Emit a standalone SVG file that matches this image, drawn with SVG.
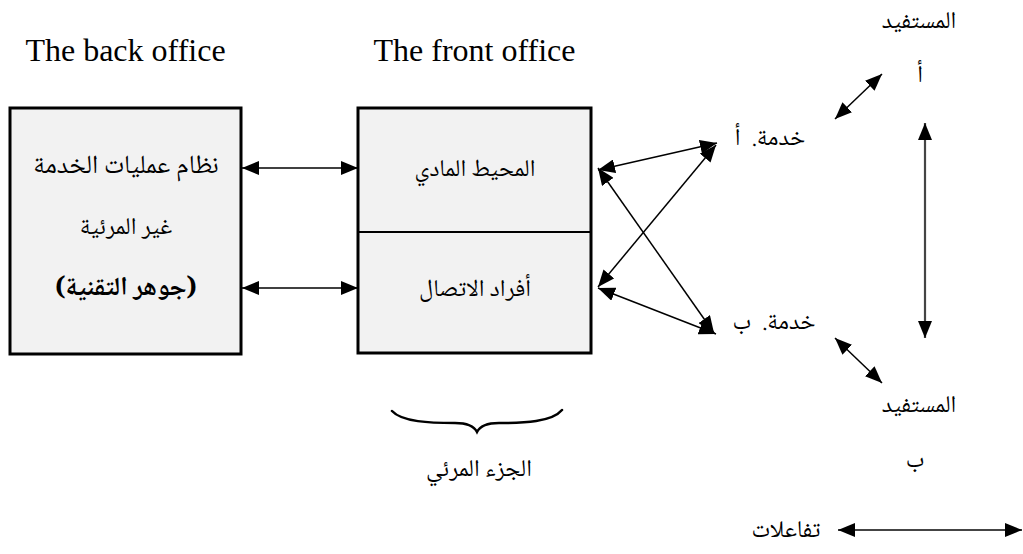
<svg xmlns="http://www.w3.org/2000/svg" width="1023" height="554" viewBox="0 0 1023 554">
  <style>
    .box { fill: #f2f2f2; stroke: #000; stroke-width: 3; }
    .div { stroke: #000; stroke-width: 2; }
    .en { font-family: "Liberation Serif", "Times New Roman", serif; font-size: 32px; fill: #000; text-anchor: middle; }
    .ar { font-family: "Noto Naskh Arabic", "Noto Sans Arabic", "DejaVu Sans", sans-serif; font-size: 24px; fill: #000; text-anchor: middle; direction: rtl; }
    .big { font-size: 26px; }
    .bold { font-weight: bold; }
    .link { stroke: #000; stroke-width: 1.5; fill: none; marker-start: url(#head); marker-end: url(#head); }
    .gray { stroke: #444; stroke-width: 2.2; }
    .brace { stroke: #000; stroke-width: 2.5; fill: none; stroke-linecap: round; }
  </style>
  <defs>
    <marker id="head" viewBox="0 0 17 14" refX="17" refY="7" markerWidth="17" markerHeight="14" markerUnits="userSpaceOnUse" orient="auto-start-reverse">
      <path d="M0,0 L17,7 L0,14 Z" fill="#000"/>
    </marker>
  </defs>
  <rect width="1023" height="554" fill="#fff"/>

  <text class="en" x="125.5" y="61">The back office</text>
  <text class="en" x="474.5" y="61">The front office</text>

  <g id="back-office">
    <rect class="box" x="10" y="108" width="231" height="246"/>
    <text class="ar big" x="126" y="173">نظام عمليات الخدمة</text>
    <text class="ar" x="126" y="234">غير المرئية</text>
    <text class="ar big bold" x="126" y="295">(جوهر التقنية)</text>
  </g>

  <g id="front-office">
    <rect class="box" x="358" y="108" width="233" height="245"/>
    <line class="div" x1="358" y1="232" x2="591" y2="232"/>
    <text class="ar" x="475" y="176">المحيط المادي</text>
    <text class="ar" x="475" y="296">أفراد الاتصال</text>
  </g>

  <g id="visible-part">
    <path class="brace" d="M392,411 C402,422 430,423 455,423 C468,423 474,426 477,432 C480,426 486,423 499,423 C524,423 552,422 562,410"/>
    <text class="ar" x="479" y="476">الجزء المرئي</text>
  </g>

  <g id="service-a">
    <text class="ar" x="770" y="145" word-spacing="6">خدمة. أ</text>
  </g>
  <g id="service-b">
    <text class="ar" x="774" y="329" word-spacing="6">خدمة. ب</text>
  </g>
  <g id="beneficiary-a">
    <text class="ar" x="919" y="28">المستفيد</text>
    <text class="ar" x="920" y="82">أ</text>
  </g>
  <g id="beneficiary-b">
    <text class="ar" x="919" y="412">المستفيد</text>
    <text class="ar" x="915" y="467">ب</text>
  </g>
  <g id="legend">
    <text class="ar" x="786" y="537">تفاعلات</text>
  </g>

  <g id="connectors">
    <line class="link" x1="242" y1="168" x2="358" y2="168"/>
    <line class="link" x1="242" y1="288" x2="358" y2="288"/>
    <line class="link" x1="598" y1="170" x2="717" y2="143"/>
    <line class="link" x1="598" y1="287" x2="716" y2="145"/>
    <line class="link" x1="598" y1="168" x2="714" y2="333"/>
    <line class="link" x1="598" y1="288" x2="716" y2="334"/>
    <line class="link" x1="835" y1="119" x2="882" y2="74"/>
    <line class="link" x1="835" y1="338" x2="882" y2="383"/>
    <line class="link gray" x1="925" y1="123" x2="925" y2="338"/>
    <line class="link gray" x1="838" y1="530" x2="1022" y2="530"/>
  </g>
</svg>
